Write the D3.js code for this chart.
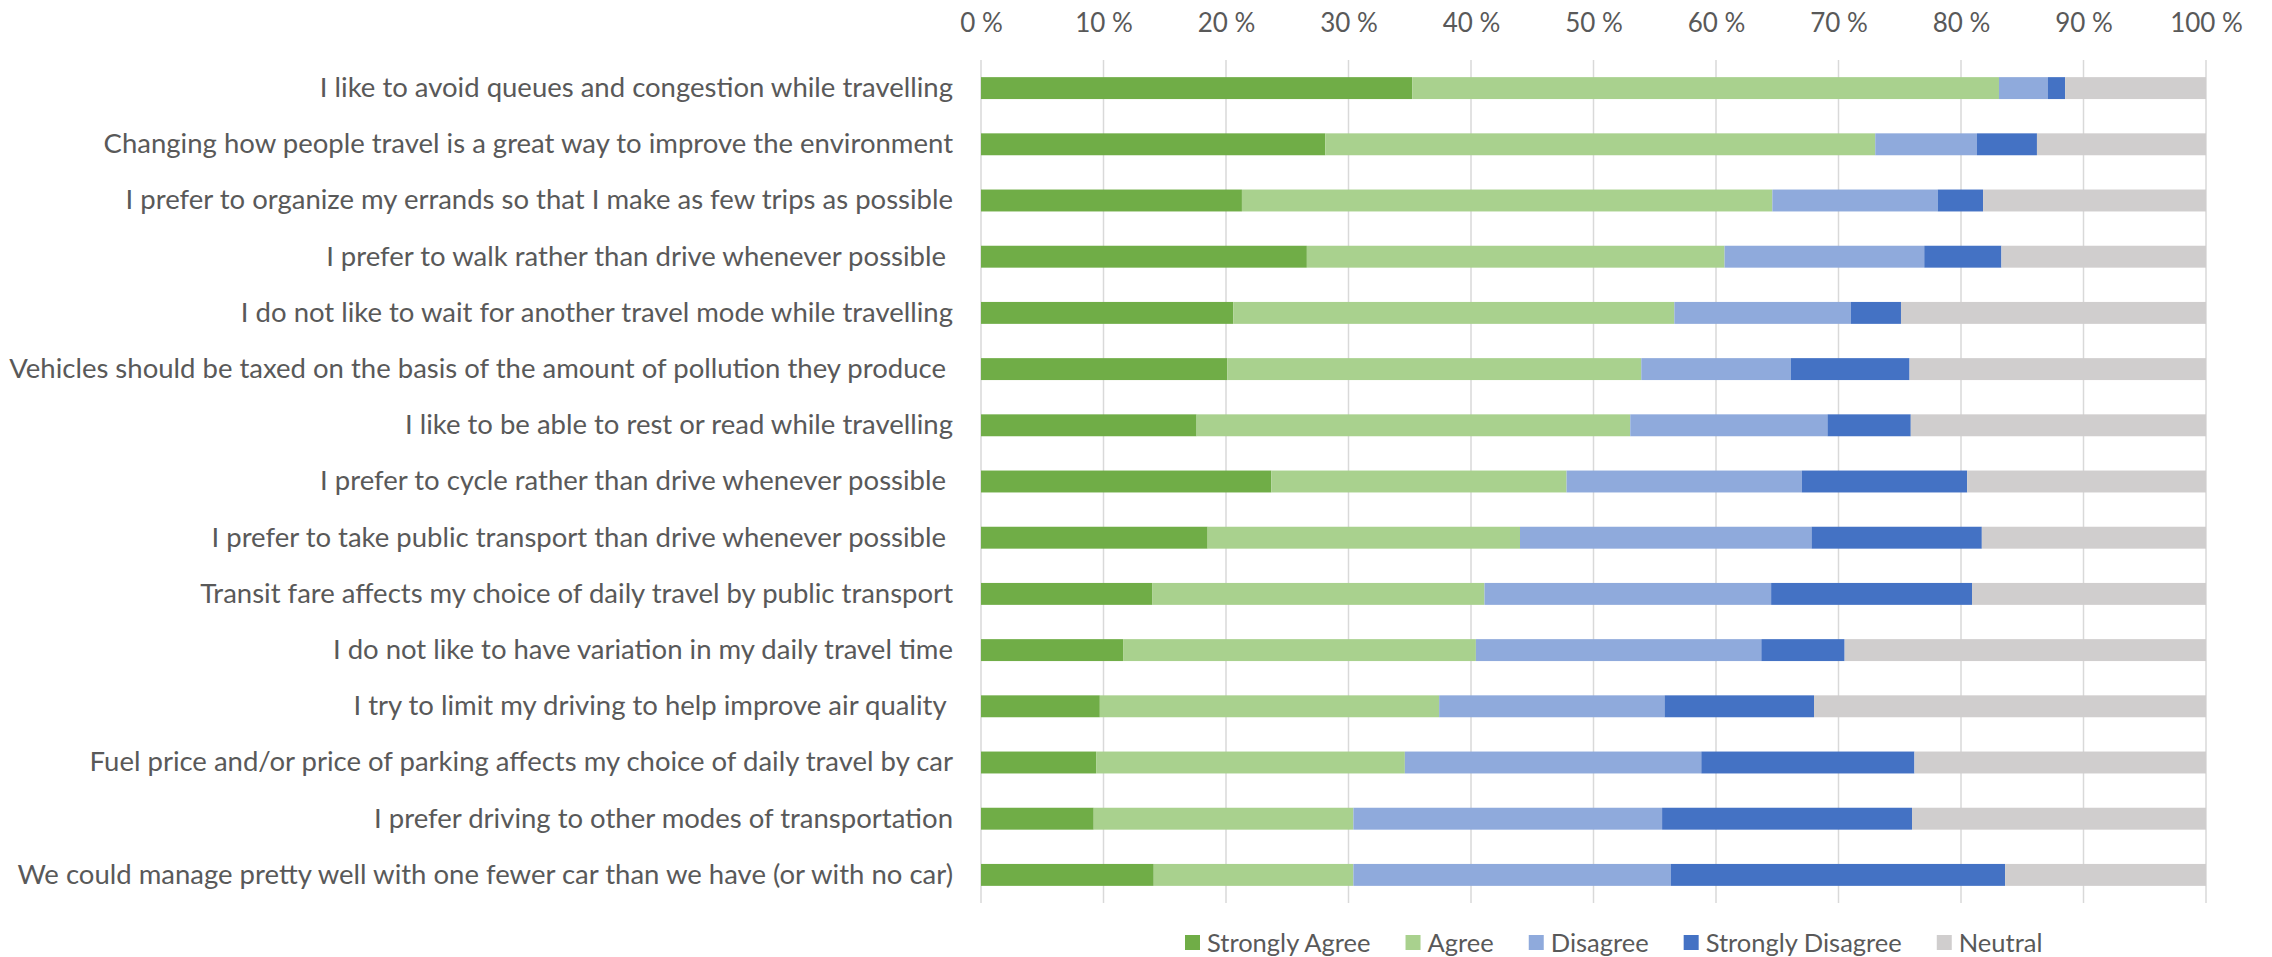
<!DOCTYPE html>
<html>
<head>
<meta charset="utf-8">
<script src="https://cdn.jsdelivr.net/npm/d3@7"></script>
<style>
  html, body { margin: 0; padding: 0; background: #fff; }
  svg { display: block; }
  text { font-family: Lato, "Open Sans", sans-serif; fill: #595959; }
</style>
</head>
<body>
<svg id="chart" width="2272" height="957"></svg>
<script>
const categories = [
  "I like to avoid queues and congestion while travelling",
  "Changing how people travel is a great way to improve the environment",
  "I prefer to organize my errands so that I make as few trips as possible",
  "I prefer to walk rather than drive whenever possible ",
  "I do not like to wait for another travel mode while travelling",
  "Vehicles should be taxed on the basis of the amount of pollution they produce ",
  "I like to be able to rest or read while travelling",
  "I prefer to cycle rather than drive whenever possible ",
  "I prefer to take public transport than drive whenever possible ",
  "Transit fare affects my choice of daily travel by public transport",
  "I do not like to have variation in my daily travel time",
  "I try to limit my driving to help improve air quality ",
  "Fuel price and/or price of parking affects my choice of daily travel by car",
  "I prefer driving to other modes of transportation",
  "We could manage pretty well with one fewer car than we have (or with no car)"
];
const seriesNames = ["Strongly Agree", "Agree", "Disagree", "Strongly Disagree", "Neutral"];
const stronglyAgree    = [35.2, 28.1, 21.3, 26.6, 20.6, 20.1, 17.6, 23.7, 18.5, 14.0, 11.6, 9.7, 9.4, 9.2, 14.1];
const agree            = [47.9, 44.9, 43.3, 34.1, 36.0, 33.8, 35.4, 24.1, 25.5, 27.1, 28.8, 27.7, 25.2, 21.2, 16.3];
const disagree         = [4.0, 8.3, 13.5, 16.3, 14.4, 12.2, 16.1, 19.2, 23.8, 23.4, 23.3, 18.4, 24.2, 25.2, 25.9];
const stronglyDisagree = [1.4, 4.9, 3.7, 6.3, 4.1, 9.7, 6.8, 13.5, 13.9, 16.4, 6.8, 12.2, 17.4, 20.4, 27.3];
const neutral          = [11.5, 13.8, 18.2, 16.7, 24.9, 24.2, 24.1, 19.5, 18.3, 19.1, 29.5, 32.0, 23.8, 24.0, 16.4];
const tickValues = [0, 10, 20, 30, 40, 50, 60, 70, 80, 90, 100];
const colors = ["#70AD47", "#A9D18E", "#8FAADC", "#4472C4", "#D0CECE"];

const rows = categories.map((c, i) => ({
  category: c,
  "Strongly Agree": stronglyAgree[i],
  "Agree": agree[i],
  "Disagree": disagree[i],
  "Strongly Disagree": stronglyDisagree[i],
  "Neutral": neutral[i]
}));

const svg = d3.select("#chart");
const plotLeft = 981, plotRight = 2206, plotTop = 60, plotBottom = 903;

const x = d3.scaleLinear().domain([0, 100]).range([plotLeft, plotRight]);
const y = d3.scaleBand().domain(categories).range([plotTop, plotBottom]).paddingInner(0.61).paddingOuter(0.305);
const color = d3.scaleOrdinal().domain(seriesNames).range(colors);

// gridlines
svg.append("g").selectAll("line").data(tickValues).join("line")
  .attr("x1", d => x(d)).attr("x2", d => x(d))
  .attr("y1", plotTop).attr("y2", plotBottom)
  .attr("stroke", "#d9d9d9").attr("stroke-width", 1.5);

// top axis labels
const xAxis = d3.axisTop(x).tickValues(tickValues).tickFormat(d => d + " %").tickSize(0).tickPadding(0);
const gx = svg.append("g").attr("transform", `translate(0,32)`).call(xAxis);
gx.select(".domain").remove();
gx.selectAll("text").attr("font-size", 26).attr("fill", "#595959")
  .style("font-family", "Lato, 'Open Sans', sans-serif").attr("dy", 0);

// stacked bars
const stack = d3.stack().keys(seriesNames);
const stacked = stack(rows);
svg.append("g").selectAll("g").data(stacked).join("g")
  .attr("fill", d => color(d.key))
  .selectAll("rect").data(d => d).join("rect")
  .attr("x", d => x(d[0]))
  .attr("width", d => x(d[1]) - x(d[0]))
  .attr("y", d => y(d.data.category))
  .attr("height", y.bandwidth());

// category labels
const yAxis = d3.axisLeft(y).tickSize(0).tickPadding(28);
const gy = svg.append("g").attr("transform", `translate(${plotLeft},0)`).call(yAxis);
gy.select(".domain").remove();
gy.selectAll("text").attr("font-size", 27.5).attr("fill", "#595959")
  .style("font-family", "Lato, 'Open Sans', sans-serif")
  .style("white-space", "pre");

// legend
const legend = svg.append("g").attr("transform", "translate(1185,943)");
let lx = 0;
seriesNames.forEach((name, i) => {
  const g = legend.append("g").attr("transform", `translate(${lx},0)`);
  g.append("rect").attr("x", 0).attr("y", -8).attr("width", 15).attr("height", 15).attr("fill", colors[i]);
  const t = g.append("text").attr("x", 22).attr("y", 0).attr("dy", "0.35em")
    .attr("font-size", 25.5).text(name);
  const w = t.node().getComputedTextLength();
  lx += 22 + w + 35;
});
</script>
</body>
</html>
